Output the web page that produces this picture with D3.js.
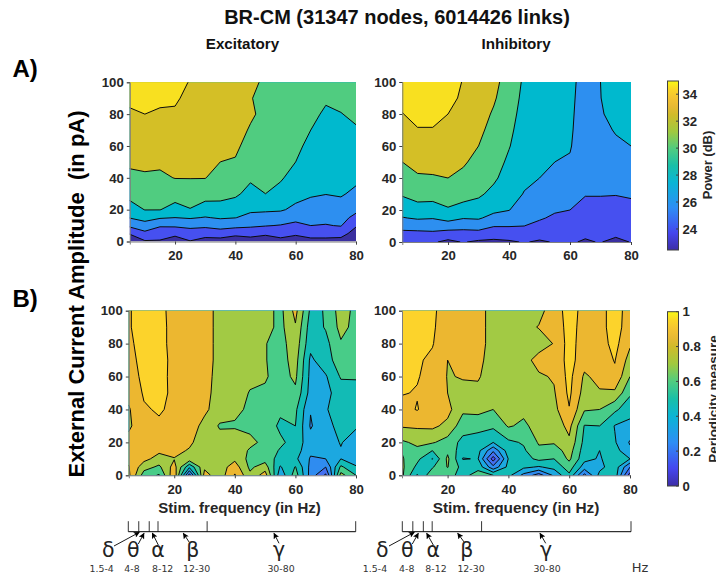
<!DOCTYPE html>
<html><head><meta charset="utf-8">
<script src="https://cdn.jsdelivr.net/npm/d3@7"></script>
<style>html,body{margin:0;padding:0;background:#fff;overflow:hidden}svg{display:block}</style>
</head><body><div id="c"></div>
<script>
// Stimulation frequencies (columns) and external current amplitudes (rows)
const freqGrid=[5,10,15,20,25,30,35,40,45,50,55,60,65,70,75,80];
const ampGrid=[0,5,10,15,20,30,40,50,60,70,80,90,100];

// Power in dB: one row per frequency, one value per amplitude
const powerExc=[
[22.0,24.2,26.4,28.1,29.2,30.6,31.6,32.3,32.7,33.3,33.8,34.3,34.8],
[23.8,25.5,27.2,28.7,30.05,30.9,31.75,32.4,32.9,33.5,34,34.5,35],
[23.8,24.9,26.2,28.2,30.05,30.85,31.7,32.3,32.8,33.3,33.8,34.3,34.8],
[23,24.5,26.3,28,29.3,30.85,32.05,32.5,32.9,33.35,33.8,34.2,34.6],
[23.9,25.1,26.5,28.2,29.9,31.1,32.05,32.4,32.7,33,33.3,33.6,33.9],
[23.2,24.8,26.4,27.9,29.1,30.8,32.05,32.3,32.5,32.8,33,33.2,33.4],
[23.2,25,26.8,28.2,29.4,30.5,31.3,32,32.3,32.5,32.7,32.9,33],
[22.8,24.5,26.6,28.05,29,30.3,31,31.85,32.35,32.8,33,33.1,33.2],
[23,24.8,26.3,27.5,28.3,29.45,30.25,30.8,31.3,31.8,32.3,32.1,32.4],
[22.6,24.4,26.1,27.2,28.3,30,30.4,30.8,31,31.2,31.45,31.4,31.7],
[23.4,24.7,25.9,27.1,28.2,29.4,30.2,30.6,30.9,31,31.2,31.3,31.5],
[23,24.3,25.5,26.6,27.6,28.6,29.3,30,30.4,30.7,30.9,31,31.2],
[23.4,24.75,26,26.7,27.3,28.2,28.7,29.1,29.55,30,30.4,30.7,31],
[23.4,24.75,25.9,26.5,27,28.05,28.4,28.7,29.05,29.4,29.75,30.2,30.6],
[23.2,24.8,26.1,26.6,27.2,28.2,28.55,28.95,29.3,29.6,29.95,30.4,30.8],
[22.4,23.1,24.2,25.5,26.4,27.6,28.4,28.8,29.3,29.85,30.3,30.7,31]];
const powerInh=[
[24.3,25.4,26.7,27.9,28.8,30.2,31.1,32,32.7,33.3,33.95,34.5,35],
[24.3,25.4,26.9,28.2,29.3,30.7,31.8,32.5,33.2,33.9,34.5,34.9,35.2],
[24.2,25.6,26.8,28.1,29.2,30.7,31.85,32.55,33.2,33.9,34.5,34.9,35.2],
[23.6,25,27.1,28.6,29.8,30.95,32,32.5,33,33.5,34,34.5,34.8],
[24.1,25.2,26.7,28.1,29.4,30.6,31.6,32.2,32.7,33.1,33.4,33.7,33.9],
[23.7,25.2,26.9,28.2,29.1,30.3,31,31.5,32,32.4,32.7,33,33.2],
[23.6,24.8,26.1,27.4,28.4,29.5,30.3,30.8,31.1,31.4,31.8,32.2,32.5],
[23.8,24.8,26.1,27.1,28.05,28.8,29.2,29.65,30.1,30.4,30.7,31,31.2],
[24.1,25,26,26.6,27.1,27.9,28.4,28.7,28.9,29.1,29.3,29.5,29.7],
[23.8,24.6,25.5,26.2,26.7,27.4,28,28.3,28.5,28.7,28.9,29.1,29.3],
[24.1,24.6,25.1,25.7,26.2,26.9,27.5,28,28.3,28.5,28.7,28.8,29],
[24.2,24.5,25,25.5,26,26.6,27.1,27.8,28.15,28.3,28.4,28.5,28.6],
[23.8,24.3,24.6,25,25.4,26.1,26.4,26.6,26.7,26.8,26.9,27,27.1],
[24.1,24.5,24.8,25.1,25.4,26.1,26.4,26.8,27.1,27.4,27.7,27.95,28],
[23.3,24.5,24.9,25.2,25.5,26.05,26.5,26.9,27.6,28.17,29,29.2,29.4],
[24.1,24.5,24.9,25.2,25.5,26.2,26.8,27.4,28,28.5,28.9,29.2,29.4]];

// Periodicity measure
const periodExc=[
[.92,.905,.88,.86,.84,.78,.79,.83,.85,.86,.88,.89,.89],
[.65,.74,.83,.855,.865,.88,.89,.91,.925,.94,.94,.95,.95],
[.59,.68,.76,.82,.85,.885,.91,.92,.93,.94,.94,.95,.95],
[.88,.84,.795,.83,.85,.87,.88,.885,.875,.87,.86,.85,.84],
[.25,.52,.76,.79,.82,.85,.86,.86,.86,.85,.85,.85,.84],
[.84,.78,.75,.75,.74,.77,.82,.83,.84,.84,.84,.84,.84],
[.74,.75,.75,.74,.74,.69,.75,.76,.76,.77,.77,.77,.77],
[.91,.85,.78,.75,.75,.69,.72,.74,.75,.76,.76,.76,.76],
[.72,.68,.67,.69,.72,.68,.685,.695,.72,.73,.74,.75,.75],
[.85,.75,.66,.66,.68,.66,.65,.685,.71,.705,.705,.74,.74],
[.43,.49,.56,.59,.62,.58,.62,.64,.66,.66,.66,.67,.67],
[.65,.605,.52,.55,.56,.60,.62,.68,.72,.74,.76,.79,.83],
[.36,.37,.39,.42,.44,.39,.405,.46,.47,.48,.53,.55,.58],
[.18,.30,.40,.44,.46,.47,.495,.47,.49,.56,.57,.608,.605],
[.74,.62,.50,.495,.505,.53,.53,.55,.61,.65,.69,.73,.75],
[.60,.51,.45,.45,.46,.51,.56,.58,.605,.64,.66,.67,.67]];
const periodInh=[
[.72,.72,.71,.695,.685,.81,.87,.905,.92,.93,.94,.95,.95],
[.49,.575,.625,.68,.72,.815,.905,.895,.905,.91,.93,.95,.95],
[.67,.59,.495,.60,.71,.82,.85,.865,.875,.885,.905,.91,.915],
[.63,.705,.72,.68,.66,.775,.83,.80,.795,.80,.84,.86,.86],
[.57,.56,.495,.54,.57,.645,.72,.78,.805,.85,.86,.86,.86],
[.64,.57,.505,.53,.55,.635,.73,.775,.81,.83,.84,.84,.84],
[.60,.33,.15,.32,.50,.62,.70,.73,.75,.75,.76,.76,.76],
[.53,.53,.505,.55,.58,.71,.73,.74,.75,.75,.75,.75,.75],
[.37,.52,.56,.585,.61,.68,.725,.75,.76,.76,.76,.77,.77],
[.25,.49,.625,.68,.71,.74,.75,.76,.785,.84,.75,.805,.77],
[.42,.53,.60,.65,.71,.74,.77,.79,.81,.82,.805,.83,.85],
[.58,.65,.72,.745,.78,.83,.895,.92,.93,.94,.94,.94,.94],
[.27,.45,.53,.55,.57,.595,.71,.76,.785,.84,.85,.86,.87],
[.53,.47,.49,.50,.54,.60,.70,.79,.83,.85,.86,.86,.86],
[.56,.56,.555,.54,.51,.495,.62,.78,.88,.905,.93,.95,.95],
[.15,.30,.50,.42,.39,.47,.54,.615,.70,.76,.815,.84,.85]];

const powerLevels=[24,26,28,30,32,34];
const powerColors=["#3a2fa0","#4650f0","#2d8ff0","#00b9ce","#50cc80","#d4bf26","#f8e020"];
const periodLevels=[.1,.2,.3,.4,.5,.6,.7,.8,.9];
const periodColors=["#3a2fa0","#4a50f0","#4470f0","#2f8cf0","#1ca8e0","#12bbb5","#48cc88","#a2ca44","#ecb730","#fcd32b"];

const freqTicks=[20,40,60,80], ampTicks=[0,20,40,60,80,100];
const powerTicks=[24,26,28,30,32,34], periodTicks=[0,.2,.4,.6,.8,1];
const bandNames=["δ","θ","α","β","γ"], bandRanges=["1.5-4","4-8","8-12","12-30","30-80"];
const bandEdges=[5,8.45,11.9,14.8,31,80];

const parulaPos=[0,.1,.25,.4,.5,.6,.7,.8,.87,.95,1];
const parulaCol=["#3d2ea6","#4546ee","#2e8ef5","#0ab5d5","#19bfa8","#50cc80","#a0c93f","#d0bb2a","#f0b838","#fbd527","#f8f914"];

const W=716,H=577;
const svg=d3.select("#c").append("svg").attr("width",W).attr("height",H).attr("font-family","'Liberation Sans',Arial,sans-serif");
const defs=svg.append("defs");
defs.append("marker").attr("id","ah").attr("viewBox","0 0 10 10").attr("refX",9).attr("refY",5)
 .attr("markerWidth",7).attr("markerHeight",6).attr("markerUnits","userSpaceOnUse").attr("orient","auto")
 .append("path").attr("d","M0,0L10,5L0,10L2,5Z").attr("fill","#000");

const TXT="#262626";
function panel(id,L,R,T,B,cols,levels,colors){
  const x=d3.scaleLinear().domain([5,80]).range([L,R]);
  const y=d3.scaleLinear().domain([0,100]).range([B,T]);
  const nc=freqGrid.length,nr=ampGrid.length;
  const dx=nc+2,dy=nr+2,vals=new Array(dx*dy);
  for(let j=0;j<dy;j++)for(let i=0;i<dx;i++){
    const ci=Math.max(0,Math.min(nc-1,i-1)),rj=Math.max(0,Math.min(nr-1,j-1));
    vals[j*dx+i]=cols[ci][rj];
  }
  const toFreq=d3.scaleLinear().domain(d3.range(nc)).range(freqGrid);
  const toAmp=d3.scaleLinear().domain(d3.range(nr)).range(ampGrid);
  const path=d3.geoPath(d3.geoTransform({point(px,py){
    this.stream.point(x(toFreq(px-1.5)),y(toAmp(py-1.5)));
  }}));
  defs.append("clipPath").attr("id","clip"+id).append("rect")
    .attr("x",x(5)).attr("y",y(100)).attr("width",x(80)-x(5)).attr("height",y(0)-y(100));
  const g=svg.append("g").attr("clip-path","url(#clip"+id+")");
  g.append("rect").attr("x",x(5)).attr("y",y(100)).attr("width",x(80)-x(5)).attr("height",y(0)-y(100)).attr("fill",colors[0]);
  const cs=d3.contours().size([dx,dy]).thresholds(levels)(vals);
  g.selectAll("path").data(cs).join("path")
    .attr("d",path).attr("fill",(d,i)=>colors[i+1]).attr("stroke","#0c0c0c").attr("stroke-width",1).attr("stroke-linejoin","round");
  const ax=svg.append("g").attr("transform",`translate(0,${B})`).call(d3.axisBottom(x).tickValues(freqTicks).tickSize(3).tickPadding(6));
  const ay=svg.append("g").attr("transform",`translate(${L},0)`).call(d3.axisLeft(y).tickValues(ampTicks).tickSize(3).tickPadding(3));
  [ax,ay].forEach(a=>{
    a.selectAll("path").attr("stroke","#7f7f7f");
    a.selectAll("line").attr("stroke","#404040");
    a.selectAll("text").attr("fill",TXT).attr("font-size",13.2).attr("font-weight","bold").attr("font-family","'Liberation Sans',Arial,sans-serif");
  });
  return x;
}
panel("a",129.8,356,82.3,241.5,powerExc,powerLevels,powerColors);
panel("b",402.3,631,82,242,powerInh,powerLevels,powerColors);
const xc=panel("c",128.8,356,310.7,475.3,periodExc,periodLevels,periodColors);
const xd=panel("d",402,630,310.7,475.3,periodInh,periodLevels,periodColors);

function text(s,x,y,size,opt={}){
  const t=svg.append("text").attr("x",x).attr("y",y).attr("font-size",size)
   .attr("font-weight",opt.weight||"bold").attr("fill",opt.fill||TXT).attr("text-anchor",opt.anchor||"middle")
   .style("white-space","pre").text(s);
  if(opt.font)t.attr("font-family",opt.font);
  if(opt.rot!==undefined)t.attr("transform",`rotate(${opt.rot},${x},${y})`);
  return t;
}
text("BR-CM (31347 nodes, 6014426 links)",397,23.5,20,{fill:"#111"});
text("Excitatory",242.5,49,15.2,{fill:"#111"});
text("Inhibitory",516,49,15.2,{fill:"#111"});
text("A)",12.5,77,24,{anchor:"start",fill:"#000"});
text("B)",12.5,307,24,{anchor:"start",fill:"#000"});
text("External Current Amplitude  (in pA)",84,294,22,{rot:-90,fill:"#000"});
text("Stim. frequency (in Hz)",239.5,513,15);
text("Stim. frequency (in Hz)",516,513,15.4);

// colour bars
function colorbar(id,T,B,dom,ticks,label,ly,lsize,lx){
  const L=667.5,R=678.5;
  const yS=d3.scaleLinear().domain(dom).range([B,T]);
  const cm=d3.scaleLinear().domain(parulaPos).range(parulaCol).interpolate(d3.interpolateRgb);
  const lg=defs.append("linearGradient").attr("id",id).attr("x1",0).attr("y1",1).attr("x2",0).attr("y2",0);
  d3.range(0,1.001,.05).forEach(t=>lg.append("stop").attr("offset",t).attr("stop-color",cm(t)));
  svg.append("rect").attr("x",L).attr("y",T).attr("width",R-L).attr("height",B-T)
    .attr("fill",`url(#${id})`).attr("stroke","#404040").attr("stroke-width",1);
  ticks.forEach(v=>{
    svg.append("line").attr("x1",R-2.5).attr("x2",R).attr("y1",yS(v)).attr("y2",yS(v)).attr("stroke","#404040");
    text(d3.format("~g")(v),R+4,yS(v)+4.7,13.2,{anchor:"start"});
  });
  text(label,lx,ly,lsize,{rot:-90});
}
colorbar("gp",81,250,[22.44,34.98],powerTicks,"Power (dB)",165,13,712);
colorbar("gq",311.7,486,[0,1],periodTicks,"Periodicity measure",399,13.4,717.5);

// frequency band rulers
function ruler(xs,arrows,greek,subs,yLine){
  const g=svg.append("g");
  g.append("line").attr("x1",xs(5)).attr("x2",xs(80)).attr("y1",yLine).attr("y2",yLine).attr("stroke","#000").attr("stroke-width",1);
  bandEdges.forEach(f=>g.append("line").attr("x1",xs(f)).attr("x2",xs(f)).attr("y1",yLine-10.5).attr("y2",yLine).attr("stroke","#000").attr("stroke-width",.8));
  bandNames.forEach((n,i)=>{
    const a=arrows[i];
    g.append("line").attr("x1",a[0]).attr("y1",a[1]).attr("x2",a[2]).attr("y2",a[3]).attr("stroke","#000").attr("stroke-width",.9).attr("marker-end","url(#ah)");
    text(n,greek[i],557,20.5,{weight:"normal",fill:"#222",font:"'DejaVu Sans',sans-serif"});
    text(bandRanges[i],subs[i],571.5,9.4,{weight:"normal",fill:"#333",font:"'DejaVu Sans',sans-serif"});
  });
}
ruler(d3.scaleLinear().domain([5,80]).range([128.3,355.7]),
  [[114,546,139.3,532.3],[138.3,544,144,533.3],[158.3,545,152.3,533],[189.3,542.3,183.3,533.3],[279,543.3,274,533.3]],
  [108.3,133.3,158,192.7,279],[101.7,132,162.7,196.7,281],531.7);
ruler(d3.scaleLinear().domain([5,80]).range([402.3,631]),
  [[389,546,414.3,532.3],[412.3,544,418.3,533.3],[433.3,545,426.7,533.3],[464.3,542.3,457.7,533.3],[545.7,543.3,540,533.3]],
  [382.3,407.3,433.3,466.7,546],[375,406.7,436,471,547],531.7);
text("Hz",640,571.5,13,{weight:"normal",fill:"#333",font:"'DejaVu Sans',sans-serif"});
</script></body></html>
